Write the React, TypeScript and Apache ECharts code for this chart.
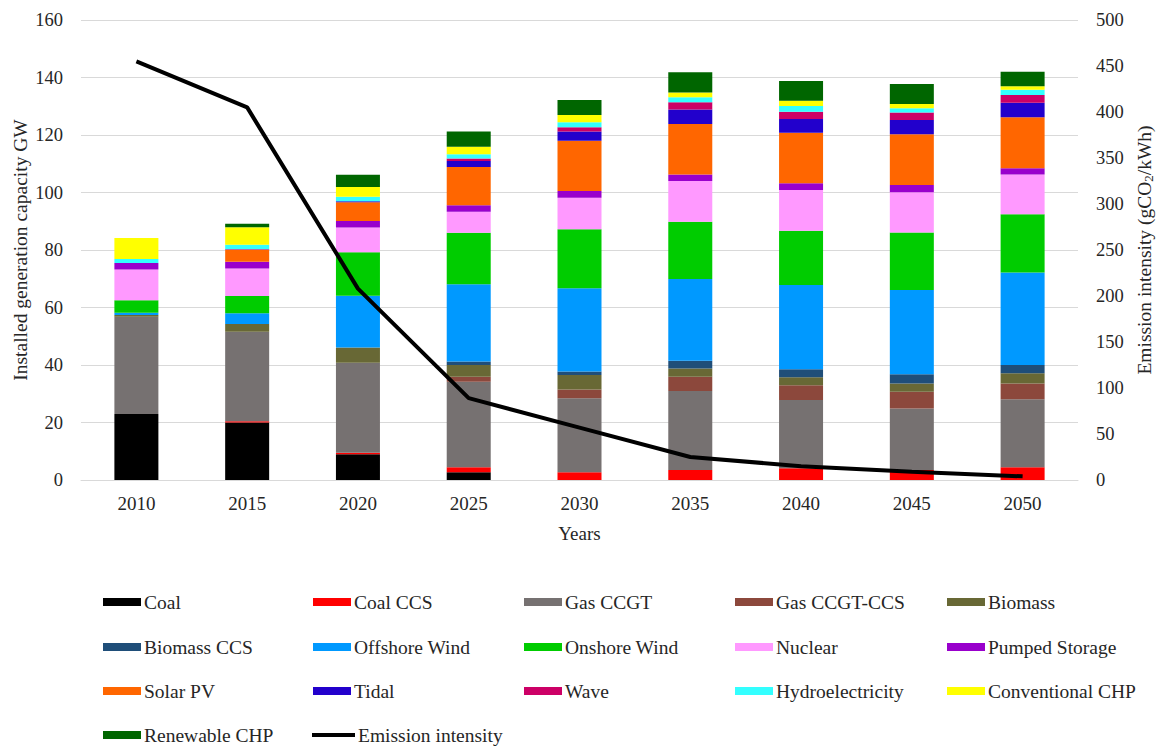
import React, { useEffect, useRef } from "react";
import * as echarts from "echarts";

// Installed generation capacity (GW) by technology, and grid emission intensity (gCO2/kWh)
const years = ["2010", "2015", "2020", "2025", "2030", "2035", "2040", "2045", "2050"];

const coal = [23, 20, 9, 2.7, 0, 0, 0, 0, 0];
const coalCcs = [0, 0.4, 0.5, 1.7, 2.7, 3.5, 4.1, 3.5, 4.4];
const gasCcgt = [33.8, 31.2, 31.3, 29.8, 25.7, 27.5, 23.7, 21.4, 23.7];
const gasCcgtCcs = [0, 0, 0, 1.7, 3.1, 4.9, 5.2, 5.8, 5.5];
const biomass = [0.6, 2.7, 5.3, 4.1, 5.0, 2.9, 2.7, 2.9, 3.5];
const biomassCcs = [0, 0, 0, 1.2, 1.2, 2.7, 2.8, 3.2, 2.9];
const offshoreWind = [0.8, 3.7, 18.0, 26.9, 29.0, 28.4, 29.3, 29.3, 32.2];
const onshoreWind = [4.3, 6.0, 15.1, 17.9, 20.5, 19.9, 18.9, 20.0, 20.2];
const nuclear = [10.7, 9.6, 8.6, 7.3, 11.0, 14.2, 14.2, 14.0, 13.9];
const pumpedStorage = [2.3, 2.3, 2.3, 2.3, 2.3, 2.3, 2.3, 2.5, 2.1];
const solarPv = [0, 4.1, 6.5, 13.3, 17.5, 17.5, 17.6, 17.7, 17.8];
const tidal = [0, 0, 0.4, 2.1, 3.2, 5.1, 4.8, 4.9, 5.0];
const wave = [0, 0.3, 0, 0.8, 1.5, 2.5, 2.5, 2.6, 2.7];
const hydro = [1.4, 1.5, 1.5, 1.5, 1.7, 1.7, 2.0, 1.5, 1.8];
const conventionalChp = [7.3, 6.1, 3.4, 2.6, 2.6, 1.7, 1.8, 1.5, 1.3];
const renewableChp = [0, 1.2, 4.3, 5.3, 5.2, 7.0, 6.9, 6.9, 5.0];

const emissionIntensity = [455, 405, 208, 89, 57, 25, 15, 9, 4];

const leftTicks = { min: 0, max: 160, interval: 20 };
const rightTicks = { min: 0, max: 500, interval: 50 };

const stackSeries = [
  { name: "Coal", data: coal, color: "#000000" },
  { name: "Coal CCS", data: coalCcs, color: "#FF0000" },
  { name: "Gas CCGT", data: gasCcgt, color: "#767171" },
  { name: "Gas CCGT-CCS", data: gasCcgtCcs, color: "#8C483C" },
  { name: "Biomass", data: biomass, color: "#686835" },
  { name: "Biomass CCS", data: biomassCcs, color: "#1F4E79" },
  { name: "Offshore Wind", data: offshoreWind, color: "#0099FF" },
  { name: "Onshore Wind", data: onshoreWind, color: "#00CC00" },
  { name: "Nuclear", data: nuclear, color: "#FF99FF" },
  { name: "Pumped Storage", data: pumpedStorage, color: "#9900CC" },
  { name: "Solar PV", data: solarPv, color: "#FF6600" },
  { name: "Tidal", data: tidal, color: "#2200CC" },
  { name: "Wave", data: wave, color: "#CC0066" },
  { name: "Hydroelectricity", data: hydro, color: "#33FFFF" },
  { name: "Conventional CHP", data: conventionalChp, color: "#FFFF00" },
  { name: "Renewable CHP", data: renewableChp, color: "#006600" },
];

const LINE_NAME = "Emission intensity";

// Legend grid: five columns, four rows
const legendColumns = [103, 313, 524, 735, 947];
const legendRows = [592, 637, 681, 725];

const FONT = "'Liberation Serif', 'Times New Roman', serif";
const TEXT = "#262626";

export default function App() {
  const ref = useRef<HTMLDivElement>(null);

  useEffect(() => {
    if (!ref.current) return;
    const chart = echarts.init(ref.current, undefined, { renderer: "svg" });

    const legendNames = [...stackSeries.map((s) => s.name), LINE_NAME];
    const legends = legendNames.map((name, i) => {
      const isLine = name === LINE_NAME;
      return {
        data: [{ name, icon: "rect" }],
        left: legendColumns[i % 5] + (isLine ? -1 : 0),
        top: legendRows[Math.floor(i / 5)],
        padding: 0,
        itemWidth: isLine ? 43 : 38,
        itemHeight: isLine ? 4 : 8,
        itemGap: 0,
        selectedMode: false,
        textStyle: { fontFamily: FONT, fontSize: 19.5, color: TEXT, padding: [0, 0, 0, -2] },
      };
    });

    chart.setOption({
      animation: false,
      textStyle: { fontFamily: FONT },
      grid: {
        left: 81,
        right: 78,
        top: 20,
        bottom: 267,
        containLabel: false,
        outerBoundsMode: "none",
      },
      legend: legends,
      xAxis: {
        type: "category",
        data: years,
        name: "Years",
        nameLocation: "middle",
        nameGap: 44,
        nameTextStyle: { fontFamily: FONT, fontSize: 19, color: TEXT },
        axisLine: { show: true, lineStyle: { color: "#D9D9D9", width: 1 } },
        axisTick: { show: false },
        axisLabel: { fontFamily: FONT, fontSize: 19, color: TEXT, margin: 14 },
      },
      yAxis: [
        {
          type: "value",
          ...leftTicks,
          name: "Installed generation capacity GW",
          nameLocation: "middle",
          nameRotate: 90,
          nameMoveOverlap: false,
          nameGap: 51,
          nameTextStyle: { fontFamily: FONT, fontSize: 19.5, color: TEXT },
          axisLine: { show: false },
          axisTick: { show: false },
          axisLabel: { fontFamily: FONT, fontSize: 18.5, color: TEXT, margin: 18 },
          splitLine: { show: true, lineStyle: { color: "#D9D9D9", width: 1 } },
        },
        {
          type: "value",
          position: "right",
          ...rightTicks,
          name: "{a|Emission intensity (gCO}{s|2}{a|/kWh)}",
          nameLocation: "middle",
          nameRotate: 90,
          nameGap: 53,
          nameTextStyle: {
            fontFamily: FONT,
            fontSize: 19.5,
            color: TEXT,
            rich: {
              a: { fontFamily: FONT, fontSize: 19.5, color: TEXT, lineHeight: 20, verticalAlign: "middle" },
              s: { fontFamily: FONT, fontSize: 13, color: TEXT, lineHeight: 20, verticalAlign: "bottom" },
            },
          },
          axisLine: { show: false },
          axisTick: { show: false },
          axisLabel: { fontFamily: FONT, fontSize: 18.5, color: TEXT, margin: 18 },
          splitLine: { show: false },
        },
      ],
      series: [
        ...stackSeries.map((s) => ({
          name: s.name,
          type: "bar",
          stack: "capacity",
          barWidth: 44,
          data: s.data,
          itemStyle: { color: s.color },
          emphasis: { disabled: true },
        })),
        {
          name: LINE_NAME,
          type: "line",
          yAxisIndex: 1,
          data: emissionIntensity,
          symbol: "none",
          lineStyle: { color: "#000000", width: 4 },
          itemStyle: { color: "#000000" },
          z: 10,
          emphasis: { disabled: true },
        },
      ],
    });

    return () => chart.dispose();
  }, []);

  return (
    <div
      ref={ref}
      style={{ position: "absolute", left: 0, top: 0, width: 1156, height: 747, background: "#ffffff" }}
    />
  );
}
